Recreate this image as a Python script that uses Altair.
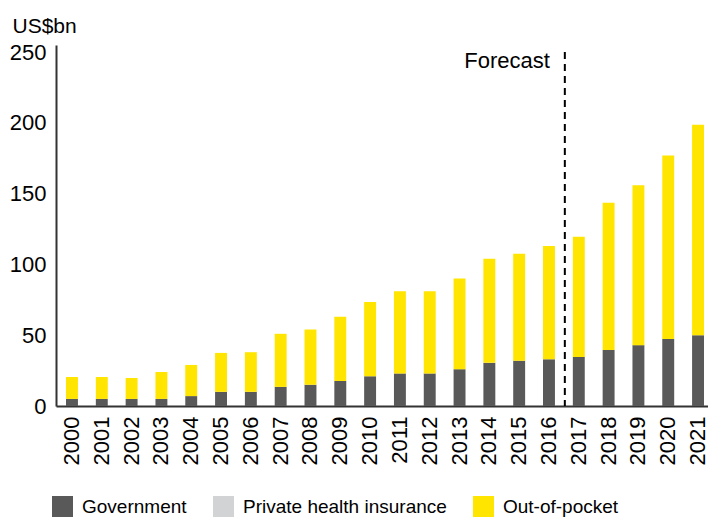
import altair as alt
import pandas as pd

FONT = "Liberation Sans, Arial, sans-serif"

years = ["2000", "2001", "2002", "2003", "2004", "2005", "2006", "2007", "2008",
         "2009", "2010", "2011", "2012", "2013", "2014", "2015", "2016", "2017",
         "2018", "2019", "2020", "2021"]

government = [5, 5, 5, 5, 7, 10, 10, 13.5, 15, 17.7, 21, 23, 23, 26, 30.5, 32,
              33, 34.7, 39.6, 43, 47.4, 50]
private_insurance = [0, 0, 0, 0, 0, 0, 0, 0, 0, 0, 0, 0, 0, 0, 0, 0, 0, 0, 0, 0, 0, 0]
out_of_pocket = [15.5, 15.5, 14.8, 19, 22, 27.5, 28, 37.5, 39, 45.3, 52.5, 58, 58,
                 64, 73.5, 75.5, 80, 84.8, 103.9, 113, 129.6, 148.7]

series = ["Government", "Private health insurance", "Out-of-pocket"]
colors = ["#595959", "#d1d3d4", "#ffe500"]
y_ticks = [0, 50, 100, 150, 200, 250]

forecast_start = "2017"
forecast_label = "Forecast"

rows = []
for i, yr in enumerate(years):
    for k, (name, vals) in enumerate(zip(series, [government, private_insurance, out_of_pocket])):
        rows.append({"year": yr, "series": name, "value": vals[i], "idx": k})
df = pd.DataFrame(rows)

x_scale = alt.Scale(domain=years, paddingInner=0.6, paddingOuter=0.235, align=0.715)
y_scale = alt.Scale(domain=[0, 255], nice=False)

bars = alt.Chart(df).mark_bar().encode(
    x=alt.X("year:N", scale=x_scale,
            axis=alt.Axis(title=None, labelAngle=270, labelAlign="right",
                          labelBaseline="middle", labelPadding=10, ticks=False,
                          domainColor="#333333", domainWidth=2,
                          labelFont=FONT, labelFontSize=22, labelColor="#000000")),
    y=alt.Y("value:Q", stack="zero", scale=y_scale,
            axis=alt.Axis(values=y_ticks, grid=False, ticks=False,
                          domainColor="#333333", domainWidth=2,
                          labelFont=FONT, labelFontSize=22, labelColor="#000000",
                          labelPadding=10,
                          title="US$bn", titleAngle=0, titleAlign="left",
                          titleBaseline="alphabetic", titleX=-44, titleY=-13,
                          titleFont=FONT, titleFontSize=21, titleFontWeight="normal",
                          titleColor="#000000")),
    color=alt.Color("series:N", scale=alt.Scale(domain=series, range=colors),
                    legend=alt.Legend(title=None, orient="none", legendX=-4, legendY=451,
                                      direction="horizontal", symbolType="square",
                                      symbolSize=441, symbolStrokeWidth=0,
                                      labelFont=FONT, labelFontSize=19, labelLimit=0,
                                      labelColor="#000000", labelOffset=9,
                                      columnPadding=26)),
    order=alt.Order("idx:Q", sort="ascending"),
)

marker = pd.DataFrame({"year": [forecast_start], "top": [250], "label": [forecast_label],
                       "ypos": [244]})

rule = alt.Chart(marker).mark_rule(strokeDash=[7, 5], strokeWidth=2, color="#000000",
                                   xOffset=-8).encode(
    x=alt.X("year:N", bandPosition=0),
    y=alt.Y("top:Q"),
    y2=alt.datum(0),
)

label = alt.Chart(marker).mark_text(align="right", baseline="middle", xOffset=-23,
                                    font=FONT, fontSize=22, color="#000000").encode(
    x=alt.X("year:N", bandPosition=0),
    y=alt.Y("ypos:Q"),
    text="label:N",
)

chart = alt.layer(bars, rule, label).properties(
    width=652, height=361, autosize="none",
    padding={"left": 56, "top": 45, "right": 0, "bottom": 115},
).configure_view(stroke=None)

chart.save("out.html", embed_options={"renderer": "svg", "actions": False})
